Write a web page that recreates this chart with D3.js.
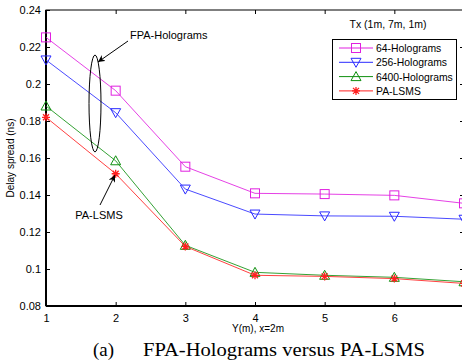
<!DOCTYPE html>
<html><head><meta charset="utf-8">
<script src="https://cdn.jsdelivr.net/npm/d3@7"></script>
<style>body{margin:0;background:#fff}svg{display:block}</style>
</head><body>
<script>
const xValues = [1, 2, 3, 4, 5, 6, 7];
const seriesNames = ["64-Holograms", "256-Holograms", "6400-Holograms", "PA-LSMS"];
const holo64 = [0.2252, 0.1964, 0.1553, 0.1409, 0.1405, 0.1398, 0.1355];
const holo256 = [0.2130, 0.1845, 0.1432, 0.1297, 0.1287, 0.1285, 0.1269];
const holo6400 = [0.1881, 0.1585, 0.1128, 0.0982, 0.0966, 0.0955, 0.0931];
const paLsms = [0.1820, 0.1515, 0.1122, 0.0966, 0.0960, 0.0948, 0.0922];
const yTicks = [0.08, 0.1, 0.12, 0.14, 0.16, 0.18, 0.2, 0.22, 0.24];
const xTicks = [1, 2, 3, 4, 5, 6];

const W = 462, H = 361;
const svg = d3.select("body").append("svg").attr("width", W).attr("height", H);
const x = d3.scaleLinear().domain([1, 7]).range([46, 464]);
const y = d3.scaleLinear().domain([0.08, 0.24]).range([306, 10]);

const font = "'Liberation Sans', Arial, sans-serif";
const colors = ["#e020e0", "#2a2aff", "#109010", "#ff2020"];
const data = [holo64, holo256, holo6400, paLsms];
const shapes = ["square", "tri-down", "tri-up", "star"];

// frame
const g = svg.append("g");
g.append("rect").attr("x", x(1)).attr("y", y(0.24)).attr("width", x(7) - x(1)).attr("height", y(0.08) - y(0.24))
  .attr("fill", "none").attr("stroke", "#000").attr("stroke-width", 1);
g.append("line").attr("x1", x(1)).attr("x2", x(1)).attr("y1", y(0.24)).attr("y2", y(0.08)).attr("stroke", "#000").attr("stroke-width", 2);
g.append("line").attr("x1", x(1)).attr("x2", x(7)).attr("y1", y(0.08)).attr("y2", y(0.08)).attr("stroke", "#000").attr("stroke-width", 2);

// axes
const yAxis = d3.axisLeft(y).tickValues(yTicks).tickFormat(d => d3.format("")(+d.toFixed(2))).tickSizeInner(-4).tickSizeOuter(0).tickPadding(5);
const ya = svg.append("g").attr("transform", `translate(${x(1)},0)`).call(yAxis);
ya.select(".domain").remove();
ya.selectAll("text").attr("font-family", font).attr("font-size", 11).attr("fill", "#000");
const xAxis = d3.axisBottom(x).tickValues(xTicks).tickFormat(d3.format("d")).tickSizeInner(-4).tickSizeOuter(0).tickPadding(8);
const xa = svg.append("g").attr("transform", `translate(0,${y(0.08)})`).call(xAxis);
xa.select(".domain").remove();
xa.selectAll("text").attr("font-family", font).attr("font-size", 11).attr("fill", "#000");
// mirrored ticks
const xTop = d3.axisTop(x).tickValues(xTicks.slice(1)).tickSizeInner(-4).tickSizeOuter(0).tickFormat("");
svg.append("g").attr("transform", `translate(0,${y(0.24)})`).call(xTop).select(".domain").remove();
const yRight = d3.axisRight(y).tickValues(yTicks.slice(1, -1)).tickSizeInner(-4).tickSizeOuter(0).tickFormat("");
svg.append("g").attr("transform", `translate(${x(7)},0)`).call(yRight).select(".domain").remove();

// lines
const line = d3.line().x((d, i) => x(xValues[i])).y(d => y(d));
function marker(sel, shape, c) {
  if (shape === "square") sel.append("rect").attr("x", -4.5).attr("y", -4.5).attr("width", 9).attr("height", 9).attr("fill", "none").attr("stroke", c).attr("stroke-width", 1);
  else if (shape === "tri-down") sel.append("path").attr("d", "M-5,-4L5,-4L0,5Z").attr("fill", "none").attr("stroke", c).attr("stroke-width", 1);
  else if (shape === "tri-up") sel.append("path").attr("d", "M-5,4L5,4L0,-5Z").attr("fill", "none").attr("stroke", c).attr("stroke-width", 1);
  else {
    sel.append("path").attr("d", "M-4,0L4,0M0,-4L0,4M-3,-3L3,3M-3,3L3,-3").attr("stroke", c).attr("stroke-width", 1.3);
  }
}
data.forEach((s, k) => {
  svg.append("path").datum(s).attr("d", line).attr("fill", "none").attr("stroke", colors[k]).attr("stroke-width", 1).attr("opacity", 0.85);
  s.forEach((v, i) => {
    const mg = svg.append("g").attr("transform", `translate(${x(xValues[i])},${y(v)})`);
    marker(mg, shapes[k], colors[k]);
  });
});

// legend
const lg = svg.append("g");
lg.append("rect").attr("x", 332.5).attr("y", 39.5).attr("width", 124).attr("height", 60).attr("fill", "#fff").attr("stroke", "#000").attr("stroke-width", 1);
seriesNames.forEach((n, k) => {
  const yy = 48 + k * 14.3;
  lg.append("line").attr("x1", 339).attr("x2", 373).attr("y1", yy).attr("y2", yy).attr("stroke", colors[k]).attr("stroke-width", 1);
  const mg = lg.append("g").attr("transform", `translate(356,${yy})`);
  marker(mg, shapes[k], colors[k]);
  lg.append("text").attr("x", 376).attr("y", yy + 4).attr("font-family", font).attr("font-size", 10.4).text(n);
});

svg.append("text").attr("x", 388).attr("y", 28).attr("text-anchor", "middle").attr("font-family", font).attr("font-size", 10.5).text("Tx (1m, 7m, 1m)");

// annotations
svg.append("defs").append("marker").attr("id", "ah").attr("viewBox", "0 0 10 10").attr("refX", 10).attr("refY", 5)
  .attr("markerWidth", 7).attr("markerHeight", 7).attr("orient", "auto").attr("markerUnits", "userSpaceOnUse")
  .append("path").attr("d", "M0,0L10,5L0,10L3,5Z").attr("fill", "#000");
svg.append("text").attr("x", 130).attr("y", 39).attr("font-family", font).attr("font-size", 11).text("FPA-Holograms");
svg.append("line").attr("x1", 128).attr("y1", 41).attr("x2", 98).attr("y2", 62).attr("stroke", "#000").attr("stroke-width", 1).attr("marker-end", "url(#ah)");
svg.append("ellipse").attr("cx", 95).attr("cy", 103.5).attr("rx", 6).attr("ry", 48.5).attr("fill", "none").attr("stroke", "#000").attr("stroke-width", 1);

svg.append("text").attr("x", 99).attr("y", 219).attr("text-anchor", "middle").attr("font-family", font).attr("font-size", 11).text("PA-LSMS");
svg.append("line").attr("x1", 100).attr("y1", 205).attr("x2", 115).attr("y2", 175).attr("stroke", "#000").attr("stroke-width", 1).attr("marker-end", "url(#ah)");

// axis titles
svg.append("text").attr("transform", `translate(14,${(y(0.08) + y(0.24)) / 2}) rotate(-90)`).attr("text-anchor", "middle")
  .attr("font-family", font).attr("font-size", 10).text("Delay spread (ns)");
svg.append("text").attr("x", 258).attr("y", 332).attr("text-anchor", "middle").attr("font-family", font).attr("font-size", 10).text("Y(m), x=2m");
const serif = "'Liberation Serif', 'DejaVu Serif', serif";
svg.append("text").attr("x", 93).attr("y", 356).attr("font-family", serif).attr("font-size", 19).attr("textLength", 21).attr("lengthAdjust", "spacingAndGlyphs").text("(a)");
svg.append("text").attr("x", 143).attr("y", 356).attr("font-family", serif).attr("font-size", 19).attr("textLength", 282).attr("lengthAdjust", "spacingAndGlyphs").text("FPA-Holograms versus PA-LSMS");
</script>
</body></html>
